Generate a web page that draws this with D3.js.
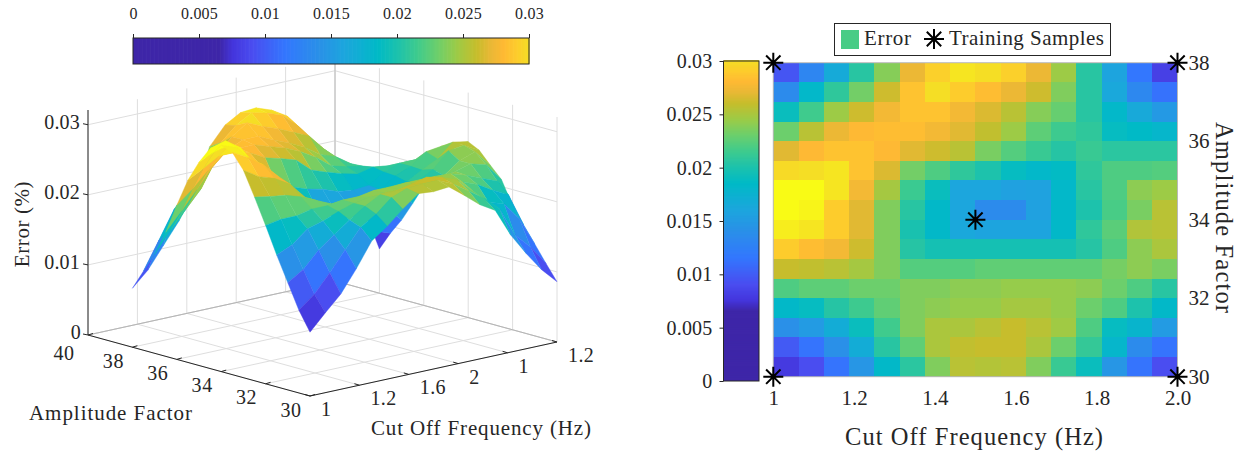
<!DOCTYPE html>
<html>
<head>
<meta charset="utf-8">
<script src="https://cdn.jsdelivr.net/npm/d3@7"></script>
<style>
  html, body { margin: 0; background: white; }
  text { font-family: "Liberation Serif", serif; fill: #262626; }
</style>
</head>
<body>
<svg id="chart" width="1245" height="453"></svg>
<script>
// error per heatmap cell, top row (amplitude 38) down to bottom row (amplitude 30)
const errorRows = [
  [.0095,.013,.0165,.0205,.0238,.0272,.0292,.0305,.03,.0292,.0272,.0245,.0205,.0158,.0115,.0082],
  [.0135,.0182,.0208,.0232,.0262,.0285,.03,.029,.0282,.0272,.0262,.0236,.0205,.0162,.0132,.0112],
  [.019,.0215,.0245,.0262,.0275,.0285,.0285,.0275,.0266,.0255,.0238,.0228,.0205,.0182,.0164,.0148],
  [.023,.0255,.0272,.028,.0282,.0282,.0275,.0268,.0258,.0245,.0225,.0214,.0208,.0188,.0185,.018],
  [.0268,.028,.0285,.0285,.028,.0268,.0262,.0255,.0234,.0222,.0212,.0204,.0212,.0206,.0206,.0206],
  [.0298,.03,.0305,.0285,.0266,.0232,.022,.0208,.02,.0188,.0182,.0186,.0208,.022,.022,.0222],
  [.032,.032,.0305,.0275,.0248,.0213,.019,.016,.016,.0155,.0156,.0182,.0205,.022,.024,.0245],
  [.0325,.0315,.029,.0268,.0236,.0205,.0183,.016,.0135,.0135,.0155,.0183,.02,.0218,.0234,.0255],
  [.031,.0305,.029,.0268,.0236,.0198,.0183,.0162,.0158,.0158,.0158,.0183,.0208,.0224,.0252,.0255],
  [.029,.0282,.0275,.0262,.0236,.0204,.0196,.0196,.0196,.0196,.0196,.0196,.0204,.022,.024,.025],
  [.026,.0258,.0255,.0248,.0236,.0222,.0222,.0222,.0226,.0226,.0226,.0226,.0226,.0233,.024,.0234],
  [.022,.0225,.0225,.023,.023,.0236,.0236,.024,.024,.0243,.0243,.0243,.024,.023,.022,.0205],
  [.0183,.0188,.0204,.0214,.0226,.0236,.024,.0243,.0243,.0248,.0248,.0243,.023,.022,.02,.0183],
  [.014,.015,.0168,.019,.0215,.0236,.025,.025,.0255,.026,.0255,.0246,.022,.0188,.0178,.015],
  [.0098,.0113,.014,.0168,.0205,.0226,.025,.0258,.026,.026,.025,.023,.021,.018,.0135,.0113],
  [.0078,.009,.0113,.0145,.0183,.0206,.0236,.0255,.0253,.0255,.0236,.0212,.019,.0145,.0113,.009]
];
// heights of the 3d surface: 17 x 17 vertices, amplitude 38 first
const surfaceRows = [
  [.0084,.0105,.0135,.0165,.02,.0262,.0288,.0301,.0303,.0295,.0282,.0252,.0225,.0205,.018,.0125,.0063],
  [.0113,.0152,.0192,.0217,.024,.0272,.0292,.0305,.03,.0292,.0272,.0245,.0217,.0185,.0138,.0098,.009],
  [.0141,.017,.0195,.022,.0262,.0285,.03,.029,.0282,.0272,.0262,.0238,.0217,.019,.0155,.0135,.0113],
  [.0177,.0202,.0228,.0255,.0275,.0285,.0285,.0275,.0266,.0255,.024,.0232,.0217,.0202,.0192,.017,.0141],
  [.022,.0238,.026,.0278,.0282,.0282,.0275,.0268,.0258,.0245,.0228,.0222,.0218,.0205,.0203,.02,.017],
  [.026,.0272,.0285,.0285,.028,.0268,.0262,.0255,.0236,.0228,.0221,.0216,.0221,.0218,.0218,.0218,.0195],
  [.029,.03,.0305,.0285,.0266,.0236,.0226,.0218,.0213,.0205,.0202,.0204,.0218,.0226,.0226,.0228,.022],
  [.0314,.032,.0305,.0275,.0248,.0222,.0207,.019,.019,.0188,.0188,.0202,.0217,.0226,.0242,.0245,.0242],
  [.0323,.0315,.029,.0268,.0238,.0217,.0202,.019,.018,.018,.0188,.0202,.0213,.0225,.0236,.0255,.0251],
  [.0317,.0305,.029,.0268,.0238,.0212,.0202,.0191,.0189,.0189,.0189,.0202,.0218,.023,.0252,.0255,.0243],
  [.0296,.0282,.0275,.0262,.0238,.0216,.021,.021,.021,.021,.021,.021,.0216,.0226,.0242,.025,.0226],
  [.0262,.0258,.0255,.0248,.0238,.0228,.0228,.0228,.0231,.0231,.0231,.0231,.0231,.0236,.0242,.0236,.021],
  [.0226,.023,.023,.0235,.0235,.0238,.0238,.0242,.0242,.0243,.0243,.0243,.0242,.0235,.0226,.0217,.0177],
  [.0188,.0198,.0216,.0222,.0231,.0238,.0242,.0243,.0243,.0248,.0248,.0243,.0235,.0226,.0213,.0202,.0154],
  [.0153,.0167,.019,.0207,.0223,.0238,.025,.025,.0255,.026,.0255,.0246,.0226,.0205,.0198,.0172,.0131],
  [.0118,.0136,.0162,.019,.0217,.0231,.025,.0258,.026,.026,.025,.0235,.022,.02,.0158,.0136,.0108],
  [.0091,.0114,.0136,.0167,.0202,.0218,.0238,.0255,.0253,.0255,.0238,.022,.0207,.0167,.0136,.0108,.0086]
];

const freqTicks = [1, 1.2, 1.4, 1.6, 1.8, 2.0];
const ampTicks = [30, 32, 34, 36, 38];
const errorTicks = [0, .005, .01, .015, .02, .025, .03];
const zTicks = [0, .01, .02, .03];
const floorAmpLabels = [30, 32, 34, 36, 38, 40];
const floorFreqLabels = ["1", "1.2", "1.6", "2", "1", "1.2"];
const samples = [[1, 30], [2, 30], [1, 38], [2, 38], [1.5, 34]];

const colorStops = [0, .0065, .0075, .009, .0115, .014, .016, .0185, .02, .0215, .023, .0245, .026, .027, .028, .029, .03, .032];
const colorHex = ["#3e26a8", "#3e26a8", "#4435dc", "#4a4df0", "#3377fe", "#2a90e8", "#1ca6dd", "#00bac6", "#1dc2ac", "#3fcb8d", "#6ccf6c", "#9dcb46", "#c7bd2c", "#e8b835", "#feb934", "#fdcc2c", "#f5de25", "#f9fb15"];
const color = d3.scaleLinear().domain(colorStops).range(colorHex).clamp(true);

const svg = d3.select("#chart");
const ink = "#262626";

// simple orthographic box: a/f run 0..1 along the floor, z goes straight up
const ampPos = d3.scaleLinear().domain([30, 40]).range([0, 1]);
const freqPos = d3.scaleLinear().domain([1, 2]).range([0, 1]);
const zPx = d3.scaleLinear().domain([0, .0321]).range([0, 225]);
const project = (a, f, z) => [310 - 222 * a + 247 * f, 396 - 61 * a - 54 * f - zPx(z)];

const left = svg.append("g");
const gridLine = (p, q, stroke = "#dedede") => left.append("line")
  .attr("x1", p[0]).attr("y1", p[1]).attr("x2", q[0]).attr("y2", q[1])
  .attr("stroke", stroke).attr("stroke-width", 1);

const tickFrac = d3.range(0, 6).map(i => i / 5);
tickFrac.forEach(t => {
  // floor
  gridLine(project(t, 0, 0), project(t, 1, 0));
  gridLine(project(0, t, 0), project(1, t, 0));
  // walls
  gridLine(project(1, t, 0), project(1, t, .0321));
  gridLine(project(t, 1, 0), project(t, 1, .0321));
});
zTicks.forEach(z => {
  gridLine(project(1, 0, z), project(1, 1, z));
  gridLine(project(1, 1, z), project(0, 1, z));
});
gridLine(project(1, 0, 0), project(1, 1, 0), "#b4b4b4");
gridLine(project(1, 1, 0), project(0, 1, 0), "#b4b4b4");
gridLine(project(1, 1, 0), project(1, 1, .0321), "#c0c0c0");

// surface: vertex row 0 is amplitude 38, vertex column 0 is 1 Hz
const ampVal = r => 38 - r * 0.5;
const freqVal = c => 1 + c / 16;
const vertex = (r, c) => project(ampPos(ampVal(r)), freqPos(freqVal(c)), surfaceRows[r][c]);

const faces = [];
errorRows.forEach((row, k) => row.forEach((value, c) => {
  faces.push({
    value,
    depth: ampPos(ampVal(k + 0.5)) + freqPos(freqVal(c + 0.5)),
    pts: [vertex(k + 1, c), vertex(k + 1, c + 1), vertex(k, c + 1), vertex(k, c)]
  });
}));
faces.sort((p, q) => d3.descending(p.depth, q.depth));

left.append("g").selectAll("path").data(faces).join("path")
  .attr("d", d => d3.line()(d.pts) + "Z")
  .attr("fill", d => color(d.value))
  .attr("stroke", d => color(d.value))
  .attr("stroke-width", 0.4);

// 3d axes
const axisLine = (p, q) => left.append("line")
  .attr("x1", p[0]).attr("y1", p[1]).attr("x2", q[0]).attr("y2", q[1])
  .attr("stroke", ink).attr("stroke-width", 1);
axisLine(project(1, 0, 0), [project(1, 0, 0)[0], 110]);
axisLine(project(1, 0, 0), project(0, 0, 0));
axisLine(project(0, 0, 0), project(0, 1, 0));

zTicks.forEach(z => {
  const p = project(1, 0, z);
  axisLine(p, [p[0] - 5, p[1] - 1]);
  left.append("text").attr("x", p[0] - (z === 0 ? 7 : 8)).attr("y", p[1] - 3).attr("dy", "0.35em")
    .attr("text-anchor", "end").attr("font-size", 20).attr("letter-spacing", 0.2).text(z);
});
floorAmpLabels.forEach(v => {
  const p = project(ampPos(v), 0, 0);
  axisLine(p, [p[0] + 5, p[1] - 1.5]);
  // the 40 sits a little lower so it clears the 0 of the height axis
  left.append("text").attr("x", p[0] - (v === 40 ? 24 : 19)).attr("y", p[1] + (v === 40 ? 18 : 13.5)).attr("dy", "0.35em")
    .attr("text-anchor", "middle").attr("font-size", 20).attr("letter-spacing", 0.6).text(v);
});
floorFreqLabels.forEach((v, i) => {
  const p = project(0, tickFrac[i], 0);
  axisLine(p, [p[0] - 5, p[1] - 1.5]);
  left.append("text").attr("x", p[0] + 11).attr("y", p[1] + 13).attr("dy", "0.35em")
    .attr("font-size", 20).attr("letter-spacing", 0.4).text(v);
});
left.append("text").attr("x", 23).attr("y", 224).attr("text-anchor", "middle")
  .attr("font-size", 21).attr("letter-spacing", 0.6).attr("transform", "rotate(-90 23 224)").attr("dy", "0.3em").text("Error (%)");
left.append("text").attr("x", 29).attr("y", 420).attr("font-size", 21)
  .attr("textLength", 163).attr("lengthAdjust", "spacing").text("Amplitude Factor");
left.append("text").attr("x", 371).attr("y", 435).attr("font-size", 21)
  .attr("textLength", 220).attr("lengthAdjust", "spacing").text("Cut Off Frequency (Hz)");

// shared colour strip drawn as thin slices
const stripValues = d3.range(0, .03, .0001);

// top colorbar
const topBar = d3.scaleLinear().domain([0, .03]).range([133, 529]);
const topG = svg.append("g");
topG.selectAll("rect").data(stripValues).join("rect")
  .attr("x", d => topBar(d)).attr("width", 2).attr("y", 38).attr("height", 26)
  .attr("fill", d => color(d));
topG.append("rect").attr("x", 133).attr("y", 38).attr("width", 396).attr("height", 26)
  .attr("fill", "none").attr("stroke", ink);
const topAxis = topG.append("g").attr("transform", "translate(0,38)")
  .call(d3.axisTop(topBar).tickValues(errorTicks).tickFormat(d => d).tickSize(4).tickPadding(15));
topAxis.select(".domain").remove();
topAxis.selectAll("line").attr("stroke", ink);
topAxis.selectAll("text").attr("font-size", 16).attr("font-family", null).attr("letter-spacing", 0.2);

// right panel
const right = svg.append("g");
const xHeat = d3.scaleLinear().domain([1, 2]).range([773.3, 1177.5]);
const yHeat = d3.scaleLinear().domain([30, 38]).range([376.7, 62.7]);
const xBand = d3.scaleBand().domain(d3.range(16)).range([773.3, 1177.5]);
const yBand = d3.scaleBand().domain(d3.range(16)).range([62.7, 376.7]);
const cells = errorRows.flatMap((row, r) => row.map((value, c) => ({ r, c, value })));
right.append("g").attr("shape-rendering", "crispEdges").selectAll("rect").data(cells).join("rect")
  .attr("x", d => xBand(d.c)).attr("y", d => yBand(d.r))
  .attr("width", xBand.bandwidth() + .5).attr("height", yBand.bandwidth() + .5)
  .attr("fill", d => color(d.value));
right.append("rect").attr("x", 773.3).attr("y", 62.7).attr("width", 404.2).attr("height", 314)
  .attr("fill", "none").attr("stroke", "#b8b8b8");

const xAxis = right.append("g").attr("transform", "translate(0,377)")
  .call(d3.axisBottom(xHeat).tickValues(freqTicks).tickFormat((d, i) => i === 0 ? "1" : d3.format(".1f")(d)).tickSize(0).tickPadding(13));
xAxis.select(".domain").remove();
xAxis.selectAll("text").attr("font-size", 21).attr("font-family", null);

const yAxis = right.append("g").attr("transform", "translate(1177.5,0)")
  .call(d3.axisRight(yHeat).tickValues(ampTicks).tickSize(0).tickPadding(11));
yAxis.select(".domain").remove();
yAxis.selectAll("text").attr("font-size", 21).attr("font-family", null);

// vertical colorbar
const sideBar = d3.scaleLinear().domain([0, .03]).range([381, 61]);
right.append("g").selectAll("rect").data(stripValues).join("rect")
  .attr("x", 724).attr("width", 35).attr("y", d => sideBar(d) - 2).attr("height", 2)
  .attr("fill", d => color(d));
right.append("rect").attr("x", 723.5).attr("y", 61).attr("width", 35.5).attr("height", 320)
  .attr("fill", "none").attr("stroke", ink);
const sideAxis = right.append("g").attr("transform", "translate(723.5,0)")
  .call(d3.axisLeft(sideBar).tickValues(errorTicks).tickFormat(d => d).tickSize(4).tickPadding(7));
sideAxis.select(".domain").remove();
sideAxis.selectAll("line").attr("stroke", ink);
sideAxis.selectAll("text").attr("font-size", 20).attr("font-family", null).attr("letter-spacing", 0.2);

// eight armed marker like matlab's '*'
const starType = {
  draw(ctx, size) {
    const r = Math.sqrt(size), k = r * 0.72;
    ctx.moveTo(0, -r); ctx.lineTo(0, r);
    ctx.moveTo(-r, 0); ctx.lineTo(r, 0);
    ctx.moveTo(-k, -k); ctx.lineTo(k, k);
    ctx.moveTo(-k, k); ctx.lineTo(k, -k);
  }
};
const star = d3.symbol().type(starType).size(100);
right.append("g").selectAll("path").data(samples).join("path")
  .attr("transform", d => `translate(${xHeat(d[0])},${yHeat(d[1])})`)
  .attr("d", star).attr("fill", "none").attr("stroke", "black").attr("stroke-width", 2);

right.append("text").attr("x", 845).attr("y", 445).attr("font-size", 24.5)
  .attr("textLength", 258).attr("lengthAdjust", "spacing").text("Cut Off Frequency (Hz)");
right.append("text").attr("transform", "translate(1216,122) rotate(90)").attr("font-size", 24.5)
  .attr("textLength", 191).attr("lengthAdjust", "spacing").text("Amplitude Factor");

// legend
right.append("rect").attr("x", 834.5).attr("y", 23.5).attr("width", 276).attr("height", 32)
  .attr("fill", "white").attr("stroke", ink);
right.append("rect").attr("x", 841).attr("y", 30).attr("width", 18).attr("height", 19).attr("fill", color(.0218));
right.append("text").attr("x", 864).attr("y", 45).attr("font-size", 21)
  .attr("textLength", 47).attr("lengthAdjust", "spacing").text("Error");
right.append("path").attr("transform", "translate(934,39)").attr("d", star).attr("fill", "none").attr("stroke", "black").attr("stroke-width", 2);
right.append("text").attr("x", 949).attr("y", 45).attr("font-size", 21)
  .attr("textLength", 155).attr("lengthAdjust", "spacing").text("Training Samples");
</script>
</body>
</html>
